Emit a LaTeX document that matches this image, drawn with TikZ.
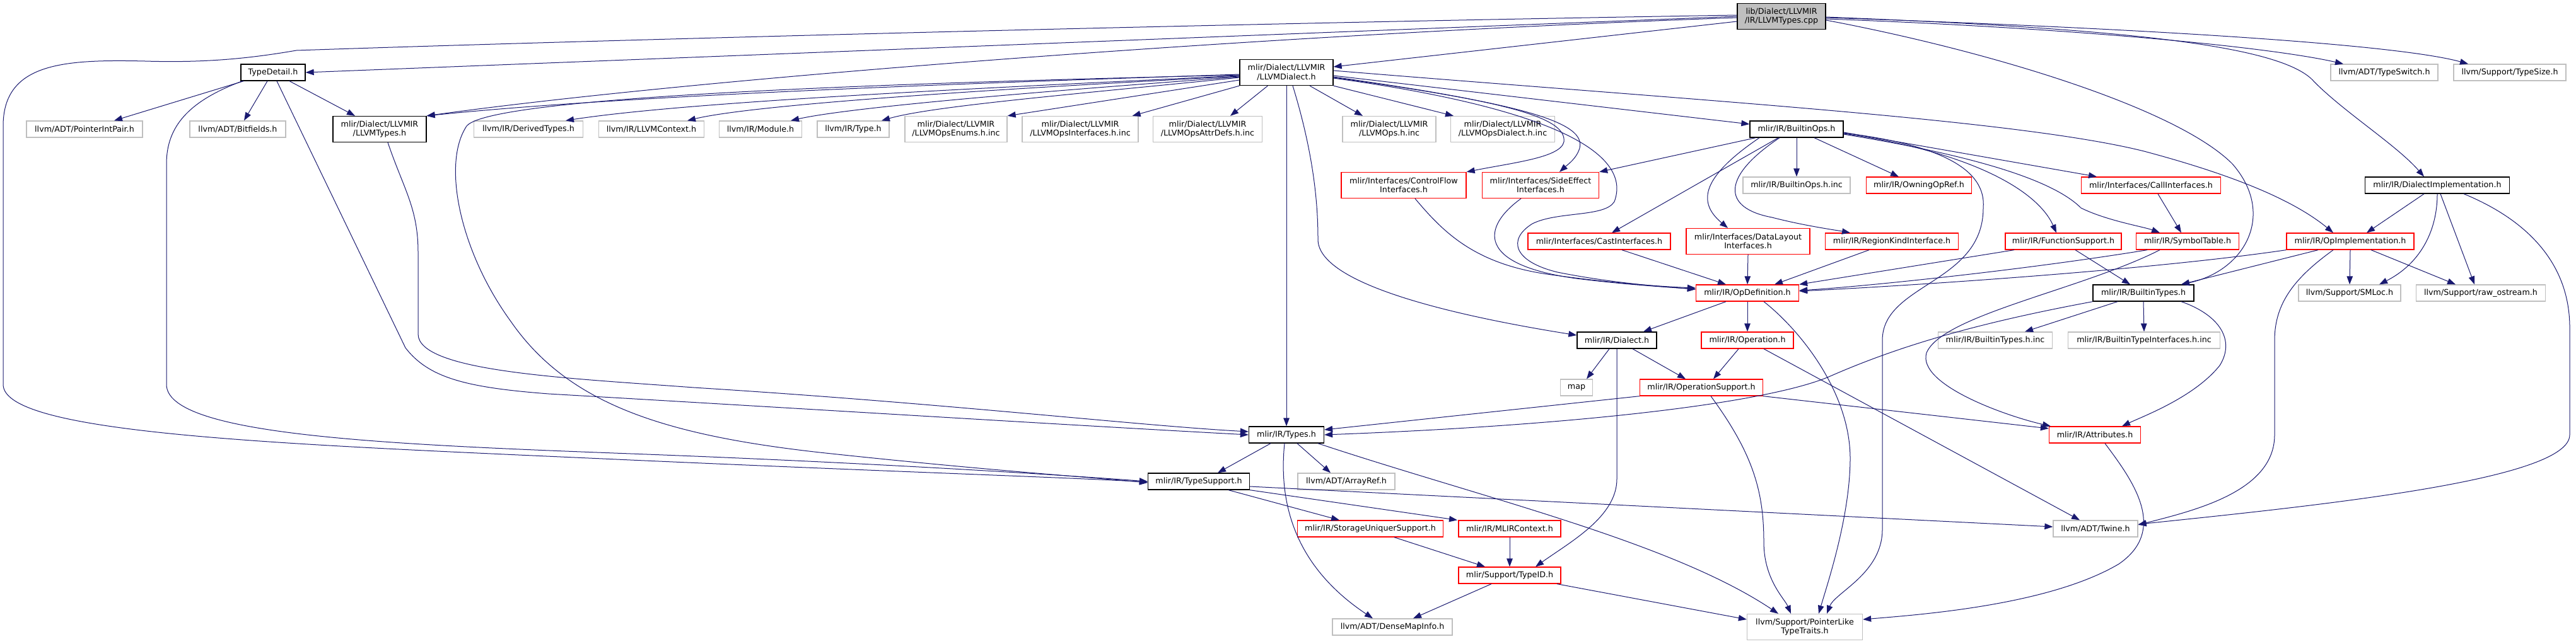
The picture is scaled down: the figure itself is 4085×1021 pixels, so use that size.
\documentclass[tikz,border=0pt]{standalone}
\usepackage{fontspec}
\newfontfamily\graphfont{DejaVu Sans}
\usetikzlibrary{arrows.meta}
\definecolor{mNavy}{HTML}{191970}
\definecolor{mGrey}{HTML}{BFBFBF}
\definecolor{mRed}{HTML}{FF0000}
\tikzset{
  file/.style={rectangle, minimum width=#1, minimum height=26pt, inner sep=0pt,
    line width=1.3pt, align=center, font={\graphfont\fontsize{12.7}{14.5}\selectfont}},
  doc/.style={file=#1, draw=black},
  ext/.style={file=#1, draw=mGrey},
  trunc/.style={file=#1, draw=mRed},
  src/.style={file=#1, draw=black, fill=mGrey},
  tall/.style={minimum height=41pt},
  inc/.style={-{Triangle[length=13pt,width=9.5pt]}, draw=mNavy, line width=1pt}
}

\begin{document}
\begin{tikzpicture}[x=1pt,y=-1pt]
  \fill[white] (0,0) rectangle (4085,1021);
  \useasboundingbox (0,0) rectangle (4085,1021);
  % rank 0
  \node[src=140, tall] (cpp) at (2825,26) {lib/Dialect/LLVMIR\\/IR/LLVMTypes.cpp};
  % rank 1
  \node[doc=102] (tdet) at (433,115) {TypeDetail.h};
  \node[doc=148, tall] (dial) at (2040,115) {mlir/Dialect/LLVMIR\\/LLVMDialect.h};
  \node[ext=170] (tsw) at (3781,115) {llvm/ADT/TypeSwitch.h};
  \node[ext=178] (tsz) at (3980,115) {llvm/Support/TypeSize.h};
  % rank 2
  \node[ext=184] (pip) at (134,205) {llvm/ADT/PointerIntPair.h};
  \node[ext=152] (bitf) at (377,205) {llvm/ADT/Bitfields.h};
  \node[doc=148, tall] (ltyp) at (602,205) {mlir/Dialect/LLVMIR\\/LLVMTypes.h};
  \node[ext=173] (dert) at (838,205) {llvm/IR/DerivedTypes.h};
  \node[ext=167] (lctx) at (1033,205) {llvm/IR/LLVMContext.h};
  \node[ext=131] (modl) at (1206,205) {llvm/IR/Module.h};
  \node[ext=114] (irty) at (1353,205) {llvm/IR/Type.h};
  \node[ext=162, tall] (oenum) at (1516,205) {mlir/Dialect/LLVMIR\\/LLVMOpsEnums.h.inc};
  \node[ext=184, tall] (oiface) at (1713,205) {mlir/Dialect/LLVMIR\\/LLVMOpsInterfaces.h.inc};
  \node[ext=173, tall] (oattr) at (1915,205) {mlir/Dialect/LLVMIR\\/LLVMOpsAttrDefs.h.inc};
  \node[ext=148, tall] (oinc) at (2203,205) {mlir/Dialect/LLVMIR\\/LLVMOps.h.inc};
  \node[ext=165, tall] (odinc) at (2383,205) {mlir/Dialect/LLVMIR\\/LLVMOpsDialect.h.inc};
  \node[doc=148] (bops) at (2849,205) {mlir/IR/BuiltinOps.h};
  % rank 3
  \node[trunc=198, tall] (cflow) at (2226,294) {mlir/Interfaces/ControlFlow\\Interfaces.h};
  \node[trunc=185, tall] (seff) at (2443,294) {mlir/Interfaces/SideEffect\\Interfaces.h};
  \node[ext=170] (bopsinc) at (2849,294) {mlir/IR/BuiltinOps.h.inc};
  \node[trunc=167] (owning) at (3043,294) {mlir/IR/OwningOpRef.h};
  \node[trunc=221] (calli) at (3411,294) {mlir/Interfaces/CallInterfaces.h};
  \node[doc=229] (dimpl) at (3865,294) {mlir/IR/DialectImplementation.h};
  % rank 4
  \node[trunc=226] (casti) at (2536,383) {mlir/Interfaces/CastInterfaces.h};
  \node[trunc=196, tall] (dlay) at (2772,383) {mlir/Interfaces/DataLayout\\Interfaces.h};
  \node[trunc=211] (rkind) at (3000,383) {mlir/IR/RegionKindInterface.h};
  \node[trunc=184] (fsup) at (3272,383) {mlir/IR/FunctionSupport.h};
  \node[trunc=163] (symt) at (3469,383) {mlir/IR/SymbolTable.h};
  \node[trunc=202] (oimpl) at (3727,383) {mlir/IR/OpImplementation.h};
  % rank 5
  \node[trunc=163] (opdef) at (2771,465) {mlir/IR/OpDefinition.h};
  \node[doc=160] (btyp) at (3399,465) {mlir/IR/BuiltinTypes.h};
  \node[ext=162] (smloc) at (3726,465) {llvm/Support/SMLoc.h};
  \node[ext=205] (rawos) at (3934,465) {llvm/Support/raw\_ostream.h};
  % rank 6
  \node[doc=126] (idial) at (2564,540) {mlir/IR/Dialect.h};
  \node[trunc=146] (oper) at (2771,540) {mlir/IR/Operation.h};
  \node[ext=181] (btinc) at (3164,540) {mlir/IR/BuiltinTypes.h.inc};
  \node[ext=241] (btiinc) at (3400,540) {mlir/IR/BuiltinTypeInterfaces.h.inc};
  % rank 7
  \node[ext=51] (map) at (2500,615) {map};
  \node[trunc=195] (opsup) at (2698,615) {mlir/IR/OperationSupport.h};
  % rank 8
  \node[doc=119] (types) at (2040,690) {mlir/IR/Types.h};
  \node[trunc=145] (attr) at (3322,690) {mlir/IR/Attributes.h};
  % rank 9
  \node[doc=161] (tsup) at (1901,764) {mlir/IR/TypeSupport.h};
  \node[ext=154] (aref) at (2135,764) {llvm/ADT/ArrayRef.h};
  % rank 10
  \node[trunc=231] (suniq) at (2173,839) {mlir/IR/StorageUniquerSupport.h};
  \node[trunc=162] (mctx) at (2394,839) {mlir/IR/MLIRContext.h};
  \node[ext=134] (twine) at (3323,839) {llvm/ADT/Twine.h};
  % rank 11
  \node[trunc=162] (tid) at (2394,913) {mlir/Support/TypeID.h};
  % rank 12
  \node[ext=190] (dmi) at (2208,995) {llvm/ADT/DenseMapInfo.h};
  \node[ext=183, tall] (plt) at (2862,995) {llvm/Support/PointerLike\\TypeTraits.h};

  % includes of the source file
  \draw[inc] (cpp.west) -- (tdet.east);
  \draw[inc] ([yshift=-8pt]cpp.west) -- ([yshift=9pt]dial.east);
  \draw[inc] ([yshift=-2pt]cpp.west) .. controls (2000,55) and (1100,125) .. (ltyp.north east);
  \draw[inc] ([yshift=2pt]cpp.west) .. controls (2000,36) and (1000,62) .. (470,80) .. controls (400,92) and (330,100) .. (230,97) .. controls (100,94) and (5,100) .. (5,200) -- (5,610) .. controls (5,690) and (450,705) .. (1000,730) .. controls (1400,748) and (1700,758) .. ([yshift=-1pt]tsup.west);
  \draw[inc] ([yshift=-4pt]cpp.east) .. controls (3300,45) and (3600,75) .. ([xshift=-65pt]tsw.north);
  \draw[inc] ([yshift=-2pt]cpp.east) .. controls (3400,45) and (3800,70) .. ([xshift=-66pt]tsz.north);
  \draw[inc] ([yshift=-1pt]cpp.east) .. controls (3350,45) and (3620,70) .. (3670,130) .. controls (3720,180) and (3800,230) .. ([xshift=-21pt]dimpl.north);
  \draw[inc] ([yshift=-6pt]cpp.east) .. controls (3150,80) and (3450,170) .. (3540,260) .. controls (3610,340) and (3560,430) .. ([xshift=60pt]btyp.north);

  % TypeDetail.h and LLVMTypes.h
  \draw[inc] ([xshift=5pt]tdet.south west) -- ([xshift=47pt]pip.north);
  \draw[inc] ([xshift=-9pt]tdet.south) -- ([xshift=10pt]bitf.north);
  \draw[inc] ([xshift=26pt]tdet.south) -- ([xshift=-39pt]ltyp.north);
  \draw[inc] ([xshift=3pt]tdet.south west) .. controls (300,160) and (264,200) .. (264,260) -- (264,610) .. controls (264,690) and (600,705) .. (1000,720) .. controls (1400,735) and (1700,755) .. (tsup.west);
  \draw[inc] ([xshift=6pt]tdet.south) -- (643,552) .. controls (680,600) and (740,615) .. (870,625) .. controls (1300,650) and (1700,675) .. (types.west);
  \draw[inc] ([xshift=13pt]ltyp.south) .. controls (640,300) and (663,330) .. (663,400) -- (663,530) .. controls (663,590) and (900,600) .. (1100,615) .. controls (1500,640) and (1800,675) .. ([yshift=5pt]types.west);

  % LLVMDialect.h
  \draw[inc] ([yshift=-3pt]dial.west) .. controls (1600,130) and (1000,150) .. (ltyp.north east);
  \draw[inc] ([yshift=-5pt]dial.west) .. controls (1600,138) and (1100,160) .. ([xshift=59pt]dert.north);
  \draw[inc] ([yshift=-6pt]dial.west) .. controls (1600,140) and (1200,165) .. ([xshift=57pt]lctx.north);
  \draw[inc] ([yshift=-7pt]dial.west) .. controls (1650,145) and (1350,170) .. ([xshift=48pt]modl.north);
  \draw[inc] ([yshift=-8pt]dial.west) .. controls (1700,150) and (1480,168) .. ([xshift=45pt]irty.north);
  \draw[inc] ([yshift=-12pt]dial.west) -- (oenum.north east);
  \draw[inc] (dial.south west) -- ([xshift=-10pt]oiface.north east);
  \draw[inc] ([xshift=45pt]dial.south west) -- ([xshift=36pt]oattr.north);
  \draw[inc] ([xshift=37pt]dial.south) -- ([xshift=-42pt]oinc.north);
  \draw[inc] (dial.south east) -- ([xshift=-78pt]odinc.north);
  \draw[inc] (dial.south) -- (types.north);
  \draw[inc] ([yshift=-4pt]dial.west) .. controls (1500,130) and (780,150) .. (740,200) .. controls (700,260) and (730,400) .. (810,510) .. controls (900,640) and (1050,690) .. (1300,718) .. controls (1550,745) and (1700,755) .. ([yshift=-2pt]tsup.west);
  \draw[inc] ([yshift=-7pt]dial.east) .. controls (2380,160) and (2485,185) .. (2480,225) .. controls (2475,250) and (2400,258) .. (cflow.north east);
  \draw[inc] ([yshift=-8pt]dial.east) .. controls (2420,165) and (2515,195) .. (2505,235) .. controls (2500,252) and (2485,262) .. ([xshift=30pt]seff.north);
  \draw[inc] ([yshift=-9pt]dial.east) .. controls (2450,170) and (2590,240) .. (2560,320) .. controls (2545,345) and (2470,335) .. (2430,355) .. controls (2390,380) and (2400,415) .. (2470,432) .. controls (2560,450) and (2640,455) .. ([yshift=6pt]opdef.west);
  \draw[inc] ([yshift=-5pt]dial.east) -- ([yshift=8pt]bops.west);
  \draw[inc] ([yshift=3pt]dial.east) .. controls (2700,160) and (3200,190) .. (3400,240) .. controls (3550,280) and (3640,320) .. ([xshift=-27pt]oimpl.north);
  \draw[inc] ([xshift=10pt]dial.south) .. controls (2085,250) and (2090,330) .. (2090,380) .. controls (2090,450) and (2300,500) .. ([yshift=8pt]idial.west);

  % BuiltinOps.h
  \draw[inc] ([xshift=-65pt]bops.south) -- (seff.north east);
  \draw[inc] ([xshift=-29pt]bops.south) -- ([xshift=20pt]casti.north);
  \draw[inc] ([xshift=-59pt]bops.south) .. controls (2700,280) and (2690,320) .. ([xshift=-32pt]dlay.north);
  \draw[inc] ([xshift=-27pt]bops.south) .. controls (2730,280) and (2730,330) .. (2810,345) .. controls (2860,358) and (2910,365) .. ([xshift=-66pt]rkind.north);
  \draw[inc] (bops.south) -- (bopsinc.north);
  \draw[inc] ([xshift=28pt]bops.south) -- ([xshift=-32pt]owning.north);
  \draw[inc] ([yshift=-5pt]bops.east) -- ([xshift=-86pt]calli.north);
  \draw[inc] ([yshift=-7pt]bops.east) .. controls (3120,240) and (3230,300) .. ([xshift=-11pt]fsup.north);
  \draw[inc] ([yshift=-8pt]bops.east) .. controls (3150,250) and (3260,290) .. (3300,330) .. controls (3340,350) and (3400,360) .. ([xshift=-44pt]symt.north);
  \draw[inc] ([yshift=-6pt]bops.east) .. controls (3080,230) and (3150,270) .. (3145,330) .. controls (3145,450) and (2985,450) .. (2985,540) -- (2985,840) .. controls (2985,910) and (2910,940) .. ([xshift=35pt]plt.north);

  % interfaces into OpDefinition.h
  \draw[inc] ([xshift=18pt]cflow.south) .. controls (2290,370) and (2340,420) .. (2460,436) .. controls (2560,450) and (2640,455) .. ([yshift=8pt]opdef.west);
  \draw[inc] ([xshift=-31pt]seff.south) .. controls (2350,360) and (2340,420) .. (2500,442) .. controls (2580,452) and (2650,456) .. ([yshift=6pt]opdef.west);
  \draw[inc] ([xshift=36pt]casti.south) -- ([xshift=-34pt]opdef.north);
  \draw[inc] (dlay.south) -- (opdef.north);
  \draw[inc] ([xshift=-36pt]rkind.south) -- ([xshift=43pt]opdef.north);
  \draw[inc] ([xshift=-78pt]fsup.south) -- (opdef.north east);
  \draw[inc] ([xshift=-64pt]symt.south) .. controls (3200,430) and (2950,455) .. ([yshift=4pt]opdef.east);
  \draw[inc] (oimpl.south west) .. controls (3400,430) and (3000,455) .. ([yshift=3pt]opdef.east);
  \draw[inc] ([xshift=11pt]calli.south) -- ([xshift=-10pt]symt.north);
  \draw[inc] ([xshift=19pt]fsup.south) -- ([xshift=-21pt]btyp.north);
  \draw[inc] ([xshift=-44pt]symt.south) .. controls (3300,460) and (3080,500) .. (3055,560) .. controls (3040,610) and (3180,660) .. ([xshift=-70pt]attr.north);

  % OpImplementation.h and DialectImplementation.h
  \draw[inc] ([xshift=-51pt]oimpl.south) -- ([xshift=60pt]btyp.north);
  \draw[inc] (oimpl.south) -- (smloc.north);
  \draw[inc] ([xshift=33pt]oimpl.south) -- ([xshift=-40pt]rawos.north);
  \draw[inc] ([xshift=-27pt]oimpl.south) .. controls (3640,440) and (3607,480) .. (3607,540) -- (3607,690) .. controls (3607,780) and (3480,810) .. ([yshift=6pt]twine.east);
  \draw[inc] ([xshift=-21pt]dimpl.south) -- ([xshift=26pt]oimpl.north);
  \draw[inc] (dimpl.south) .. controls (3865,370) and (3835,420) .. ([xshift=47pt]smloc.north);
  \draw[inc] ([xshift=5pt]dimpl.south) -- ([xshift=-10pt]rawos.north);
  \draw[inc] ([xshift=42pt]dimpl.south) .. controls (4010,350) and (4075,420) .. (4075,520) -- (4075,690) .. controls (4075,760) and (3700,800) .. ([yshift=7pt]twine.east);

  % BuiltinTypes.h
  \draw[inc] (btyp.south west) .. controls (3150,510) and (3020,545) .. (2900,598) .. controls (2800,640) and (2500,675) .. (types.east);
  \draw[inc] ([xshift=-41pt]btyp.south) -- ([xshift=47pt]btinc.north);
  \draw[inc] (btyp.south) -- (btiinc.north);
  \draw[inc] ([xshift=60pt]btyp.south) .. controls (3520,500) and (3545,540) .. (3520,580) .. controls (3480,630) and (3400,660) .. ([xshift=43pt]attr.north);

  % OpDefinition.h, Dialect.h, Operation.h, OperationSupport.h
  \draw[inc] ([xshift=-34pt]opdef.south) -- ([xshift=42pt]idial.north);
  \draw[inc] (opdef.south) -- (oper.north);
  \draw[inc] ([xshift=26pt]opdef.south) .. controls (2850,520) and (2935,620) .. (2934,730) .. controls (2933,820) and (2900,920) .. ([xshift=22pt]plt.north);
  \draw[inc] ([xshift=-12pt]idial.south) -- ([xshift=16pt]map.north);
  \draw[inc] ([xshift=25pt]idial.south) -- ([xshift=-25pt]opsup.north);
  \draw[inc] (idial.south) -- (2564,760) .. controls (2564,820) and (2490,860) .. ([xshift=41pt]tid.north);
  \draw[inc] ([xshift=-14pt]oper.south) -- ([xshift=19pt]opsup.north);
  \draw[inc] ([xshift=26pt]oper.south) -- ([xshift=-25pt]twine.north);
  \draw[inc] (opsup.south west) -- ([yshift=8pt]types.east);
  \draw[inc] (opsup.south east) -- ([yshift=10pt]attr.west);
  \draw[inc] ([xshift=15pt]opsup.south) .. controls (2780,720) and (2797,780) .. (2797,860) .. controls (2797,920) and (2830,950) .. ([xshift=-22pt]plt.north);
  \draw[inc] ([xshift=16pt]attr.south) .. controls (3380,760) and (3440,840) .. (3360,895) .. controls (3250,960) and (3050,975) .. ([yshift=12pt]plt.east);

  % Types.h and below
  \draw[inc] ([xshift=-25pt]types.south) -- ([xshift=30pt]tsup.north);
  \draw[inc] ([xshift=17pt]types.south) -- ([xshift=-25pt]aref.north);
  \draw[inc] ([xshift=-3pt]types.south) .. controls (2025,820) and (2070,910) .. ([xshift=-31pt]dmi.north);
  \draw[inc] ([xshift=50pt]types.south) .. controls (2350,790) and (2650,860) .. ([xshift=-42pt]plt.north);
  \draw[inc] ([xshift=47pt]tsup.south) -- ([xshift=-49pt]suniq.north);
  \draw[inc] (tsup.south east) -- ([xshift=-83pt]mctx.north);
  \draw[inc] ([yshift=-8pt]tsup.east) -- ([yshift=3pt]twine.west);
  \draw[inc] ([xshift=38pt]suniq.south) -- ([xshift=-39pt]tid.north);
  \draw[inc] (mctx.south) -- (tid.north);
  \draw[inc] ([xshift=-29pt]tid.south) -- ([xshift=33pt]dmi.north);
  \draw[inc] ([xshift=75pt]tid.south) -- ([yshift=12pt]plt.west);
\end{tikzpicture}
\end{document}
